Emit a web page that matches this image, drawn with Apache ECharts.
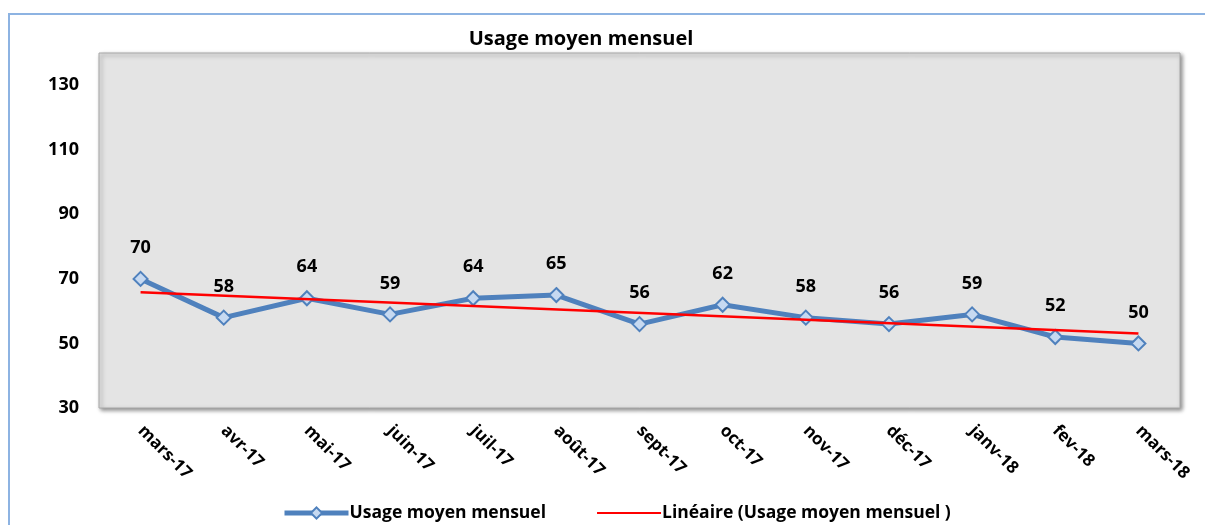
<!DOCTYPE html>
<html>
<head>
<meta charset="utf-8">
<script src="https://cdn.jsdelivr.net/npm/echarts@6/dist/echarts.min.js"></script>
<style>
	html, body { margin: 0; padding: 0; background: #fff; }
	#chart { width: 1205px; height: 525px; }
</style>
</head>
<body>
<div id="chart"></div>
<script>
var months = ['mars-17', 'avr-17', 'mai-17', 'juin-17', 'juil-17', 'août-17', 'sept-17', 'oct-17', 'nov-17', 'déc-17', 'janv-18', 'fev-18', 'mars-18'];
var usage = [70, 58, 64, 59, 64, 65, 56, 62, 58, 56, 59, 52, 50];
// tendance linéaire : seulement les deux bouts
var trend = [65.9, null, null, null, null, null, null, null, null, null, null, null, 53.1];

(function() {
	'use strict';
	var chart = echarts.init(document.getElementById('chart'));
	var font = '"Open Sans", sans-serif';

	var option = {
		animation: false,
		textStyle: { fontFamily: font },
		title: {
			text: 'Usage moyen mensuel',
			left: 576,
			textAlign: 'center',
			top: 24,
			textStyle: { fontSize: 20, fontWeight: 'bold', color: '#000', fontFamily: font }
		},
		graphic: [{
			type: 'rect',
			shape: { x: 9, y: 14, width: 1220, height: 540 },
			style: { fill: 'none', stroke: '#8db3e2', lineWidth: 2 },
			silent: true,
			z: -10
		}],
		legend: {
			bottom: -2,
			left: 277,
			itemGap: 50,
			itemWidth: 64,
			itemHeight: 14,
			textStyle: { fontSize: 17.5, fontWeight: 'bold', color: '#000', fontFamily: font, padding: [0, 0, 0, -4] },
			data: [{
				name: 'Usage moyen mensuel',
				lineStyle: { width: 5 }
			}, {
				name: 'Linéaire (Usage moyen mensuel )',
				itemStyle: { opacity: 0 }
			}]
		},
		grid: {
			left: 99,
			right: 25,
			top: 53,
			bottom: 117,
			show: true,
			backgroundColor: '#e4e4e4',
			borderColor: '#a8a8a8',
			borderWidth: 1,
			shadowColor: 'rgba(0,0,0,0.45)',
			shadowBlur: 4,
			shadowOffsetX: 2,
			shadowOffsetY: 2
		},
		xAxis: {
			type: 'category',
			boundaryGap: true,
			data: months,
			axisLine: { show: false },
			axisTick: { show: false },
			axisLabel: {
				rotate: -45,
				margin: 20,
				interval: 0,
				fontSize: 17,
				fontWeight: 'bold',
				color: '#000',
				fontFamily: font
			}
		},
		yAxis: {
			type: 'value',
			min: 30,
			max: 140,
			interval: 20,
			splitLine: { show: false },
			axisLine: { show: false },
			axisTick: { show: false },
			axisLabel: {
				showMaxLabel: false,
				margin: 20,
				fontSize: 18,
				fontWeight: 'bold',
				color: '#000',
				fontFamily: font
			}
		},
		series: [{
			name: 'Usage moyen mensuel',
			type: 'line',
			data: usage,
			symbol: 'diamond',
			symbolSize: 14,
			lineStyle: { color: '#4f81bd', width: 5 },
			itemStyle: { color: '#c6d9f1', borderColor: '#4f81bd', borderWidth: 2 },
			label: {
				show: true,
				position: 'top',
				distance: 14,
				fontSize: 18,
				fontWeight: 'bold',
				color: '#000',
				fontFamily: font
			},
			z: 3
		}, {
			name: 'Linéaire (Usage moyen mensuel )',
			type: 'line',
			data: trend,
			connectNulls: true,
			showSymbol: false,
			symbol: 'none',
			lineStyle: { color: '#ff0000', width: 2.5 },
			itemStyle: { color: '#ff0000' },
			z: 4
		}]
	};
	chart.setOption(option);
})();
</script>
</body>
</html>
